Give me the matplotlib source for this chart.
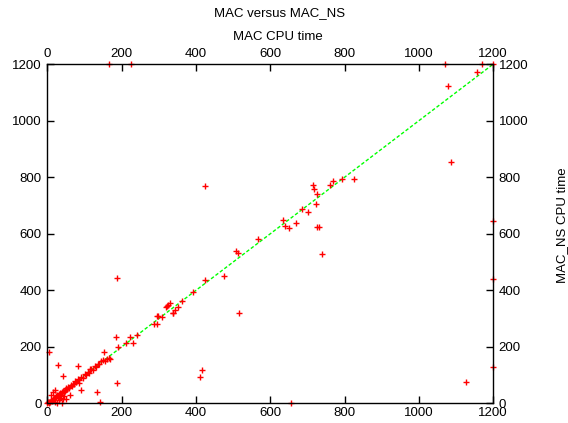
import matplotlib
matplotlib.use("Agg")
import matplotlib.pyplot as plt

plt.rcParams['font.family'] = ['Liberation Sans', 'DejaVu Sans']

# MAC CPU time (x) and MAC_NS CPU time (y)
mac = [0, 2, 4, 5, 8, 10, 12, 14, 16, 18, 20, 22, 24, 26, 28, 30, 32, 34, 36, 38,
       40, 42, 44, 46, 48, 50, 53, 56, 59, 62, 65, 68, 71, 74, 78, 82, 86, 90, 95,
       100, 104, 108, 112, 118, 122, 128, 132, 136, 140, 145, 150, 155, 160, 165, 168,
       20, 30, 35, 45, 50, 40, 25, 60, 10, 15,
       5, 28, 83, 41, 114, 152, 188, 90, 134, 141, 19, 84, 43,
       184, 190, 211, 231, 222, 240,
       287, 296, 294, 299, 308, 323, 330, 319, 325, 337, 339, 343, 352, 361,
       391, 424, 476, 508, 514, 568, 516, 416, 411, 188, 425, 655,
       633, 640, 651, 669, 685, 703, 714, 718, 725, 723, 727, 732, 739,
       761, 770, 792, 826,
       1078, 1158, 1087, 1126, 1200, 1200, 1200,
       166, 225, 1071, 1170, 1200]
mac_ns = [0, 3, 1, 6, 5, 12, 8, 15, 12, 20, 17, 25, 21, 28, 24, 33, 29, 36, 31, 40,
          37, 45, 40, 48, 44, 53, 49, 58, 55, 65, 61, 70, 67, 78, 74, 86, 82, 93, 91,
          104, 99, 112, 108, 122, 118, 133, 128, 140, 138, 148, 152, 150, 157, 160, 157,
          5, 10, 20, 25, 15, 0, 2, 30, 30, 40,
          183, 137, 131, 97, 120, 181, 73, 47, 40, 5, 47, 73, 14,
          236, 198, 212, 214, 236, 243,
          281, 280, 309, 309, 307, 344, 354, 342, 348, 319, 320, 332, 341, 363,
          395, 436, 451, 540, 531, 580, 319, 117, 92, 442, 770, 2,
          649, 628, 619, 639, 687, 676, 774, 757, 741, 705, 625, 623, 528,
          774, 788, 793, 793,
          1123, 1174, 853, 76, 646, 439, 130,
          1200, 1200, 1200, 1200, 1200]

fig = plt.figure(figsize=(5.68, 4.23), dpi=100)
ax = fig.add_axes([0.0836, 0.0466, 0.7844, 0.8014])

ax.plot([0, 1200], [0, 1200], color='#00ff00', linestyle=(0, (2.5, 1.5)), linewidth=1, zorder=1)
ax.plot(mac, mac_ns, linestyle='none', marker='+', color='red', markersize=5,
        markeredgewidth=1, clip_on=False, zorder=2)

ax.set_xlim(0, 1200)
ax.set_ylim(0, 1200)
ticks = [0, 200, 400, 600, 800, 1000, 1200]
ax.set_xticks(ticks)
ax.set_yticks(ticks)
ax.tick_params(direction='in', length=5, width=1, labelsize=9.5,
               top=True, right=True, labeltop=True, labelright=True, pad=4)
ax.tick_params(axis='x', pad=3)
for s in ax.spines.values():
    s.set_linewidth(1)

fig.text(0.493, 0.968, "MAC versus MAC_NS", ha='center', va='center', fontsize=9.5)
fig.text(0.49, 0.912, "MAC CPU time", ha='center', va='center', fontsize=9.5)
fig.text(0.99, 0.468, "MAC_NS CPU time", ha='center', va='center', rotation=90, fontsize=9.5)

fig.savefig("out.png", dpi=100)
